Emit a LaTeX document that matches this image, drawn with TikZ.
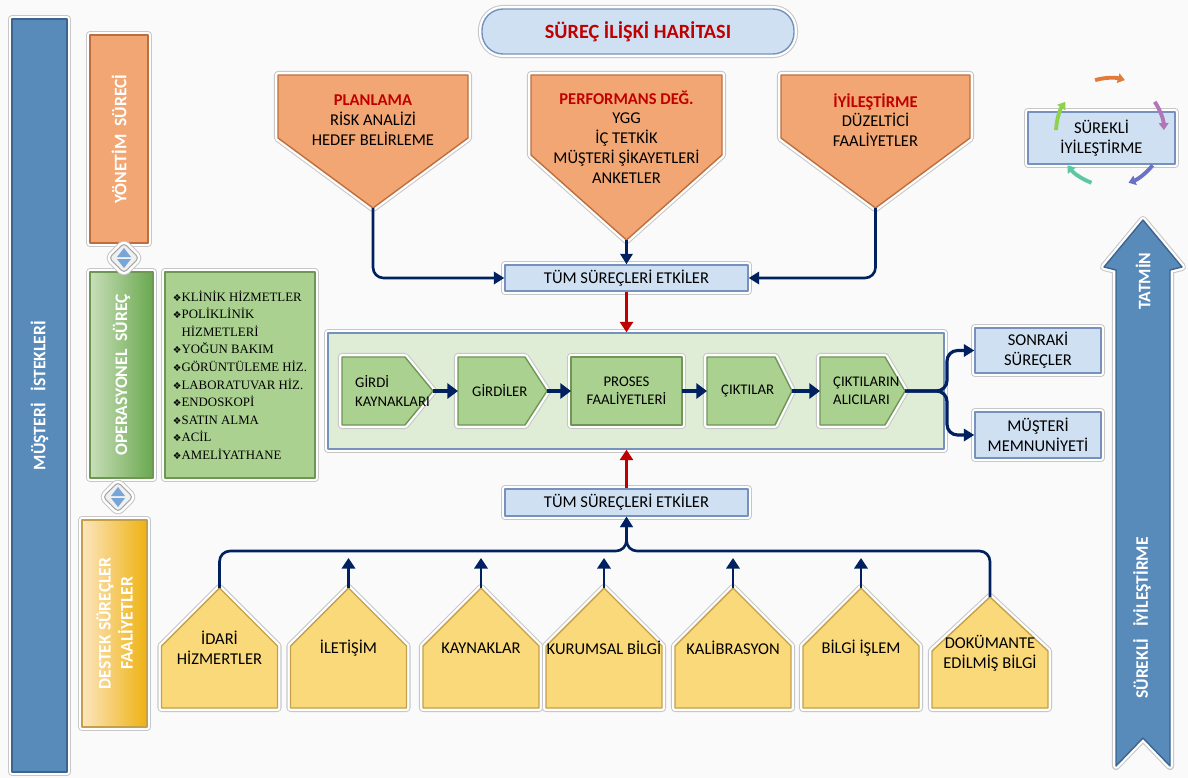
\documentclass[tikz,border=0pt]{standalone}
\usepackage{fontspec}
\setmainfont{Carlito}
\newfontfamily\listfont{Liberation Serif}
\newfontfamily\symfont{DejaVu Sans}
\usetikzlibrary{arrows.meta,calc}
\definecolor{barblue}{RGB}{88,139,185}
\definecolor{bardark}{RGB}{60,100,145}
\definecolor{salmon}{RGB}{241,166,115}
\definecolor{salmondark}{RGB}{190,110,62}
\definecolor{paleblue}{RGB}{207,224,242}
\definecolor{paledark}{RGB}{118,146,188}
\definecolor{leaf}{RGB}{170,209,143}
\definecolor{leafdark}{RGB}{110,150,85}
\definecolor{mint}{RGB}{223,236,214}
\definecolor{sand}{RGB}{250,217,122}
\definecolor{sanddark}{RGB}{196,160,75}
\definecolor{navy}{RGB}{0,32,96}
\definecolor{darkred}{RGB}{192,0,0}
\definecolor{gold}{RGB}{238,178,17}
\definecolor{goldlight}{RGB}{252,229,190}
\definecolor{grass}{RGB}{106,168,79}
\definecolor{grasslight}{RGB}{200,222,184}
\definecolor{iconblue}{RGB}{120,165,215}
\definecolor{cycorange}{RGB}{226,122,58}
\definecolor{cycpurple}{RGB}{178,118,184}
\definecolor{cycblue}{RGB}{106,114,198}
\definecolor{cycteal}{RGB}{92,200,160}
\definecolor{cycgreen}{RGB}{142,209,75}
\begin{document}
\begin{tikzpicture}[x=0.02cm,y=-0.02cm,line join=round,>={Triangle[length=6pt,width=7pt]},font=\fontsize{9.4}{11.3}\selectfont]
	\tikzset{glow/.style={preaction={draw=black!22,line width=4.6pt},preaction={draw=white,line width=3.4pt}},
		bluebox/.style={glow,draw=paledark,fill=paleblue,line width=.8pt,inner sep=0pt,align=center},
		sidebar/.style={glow,rotate=90,line width=.8pt,inner sep=0pt,text=white,align=center,
			font=\fontsize{10}{12.5}\selectfont\bfseries},
		pent/.style={glow,draw=salmondark,fill=salmon,line width=.8pt},
		procshape/.style={glow,draw=leafdark,fill=leaf,line width=.8pt},
		house/.style={glow,draw=sanddark,fill=sand,line width=.8pt},
		flow/.style={draw=navy,line width=1.5pt,->,rounded corners=6pt},
		chain/.style={draw=navy,line width=2.3pt,-{Triangle[length=6pt,width=8.5pt]}},
		lift/.style={draw=navy,line width=1.7pt,-{Triangle[length=6pt,width=7.5pt]}},
		hot/.style={draw=darkred,line width=1.7pt,-{Triangle[length=6pt,width=7.5pt]}}}
	\fill[black!2] (0,0) rectangle (1188,778);
	\useasboundingbox (0,0) rectangle (1188,778);
	\def\madde{{\symfont\fontsize{5.5}{6}\selectfont ❖}}
	% sol sutunlar
	\node[sidebar,fill=barblue,draw=bardark,minimum width=15.06cm,minimum height=1.1cm] (istek) at (39.5,395.5) {MÜŞTERİ\ \ \ İSTEKLERİ};
	\node[sidebar,fill=salmon,draw=salmondark,minimum width=4.16cm,minimum height=1.16cm] (yonetim) at (119,139) {YÖNETİM\ \ SÜRECİ};
	\node[sidebar,left color=grasslight,right color=grass,draw=leafdark,minimum width=4.12cm,minimum height=1.26cm] (opr) at (121.5,375) {OPERASYONEL\ \ SÜREÇ};
	\node[sidebar,left color=goldlight,right color=gold,draw=sanddark,minimum width=4.14cm,minimum height=1.3cm] (destek) at (114.5,623.5) {DESTEK SÜREÇLER\\FAALİYETLER};
	\node[glow,draw=leafdark,fill=leaf,line width=.8pt,minimum width=3cm,minimum height=4.12cm,inner sep=0pt,align=left,
		font=\listfont\fontsize{7.3}{10}\selectfont] (liste) at (240,375)
		{\madde KLİNİK HİZMETLER\\\madde POLİKLİNİK\\\phantom{\madde}HİZMETLERİ\\\madde YOĞUN BAKIM\\\madde GÖRÜNTÜLEME HİZ.\\
		\madde LABORATUVAR HİZ.\\\madde ENDOSKOPİ\\\madde SATIN ALMA\\\madde ACİL\\\madde AMELİYATHANE};
	\foreach \n/\x/\y in {ikon1/124/258,ikon2/118/497}{
		\node[glow,draw=black!35,fill=black!6,rotate=45,minimum size=0.42cm,rounded corners=2pt,line width=.6pt,inner sep=0pt] (\n) at (\x,\y) {};
		\fill[iconblue] (\x,{\y-10}) -- ({\x+7},{\y-1}) -- ({\x-7},{\y-1}) -- cycle;
		\fill[iconblue] (\x,{\y+10}) -- ({\x-7},{\y+1}) -- ({\x+7},{\y+1}) -- cycle;}
	% baslik
	\node[glow,draw=paledark,fill=paleblue,line width=.8pt,rounded corners=12pt,minimum width=6.24cm,minimum height=0.9cm,
		text=darkred,font=\fontsize{11.5}{14}\selectfont\bfseries] (baslik) at (638,31.5) {SÜREÇ İLİŞKİ HARİTASI};
	\foreach \n/\a/\b/\s/\t in {plan/278/468/138/208,perf/531/722/155/240,iyi/781/970/138/208}{
		\draw[pent] (\a,75) -- (\b,75) -- (\b,\s) -- ({(\a+\b)/2},\t) -- (\a,\s) -- cycle;
		\coordinate (\n-tip) at ({(\a+\b)/2},\t);}
	\node[align=center] (plan) at (373,120) {\textcolor{darkred}{\bfseries PLANLAMA}\\RİSK ANALİZİ\\HEDEF BELİRLEME};
	\node[align=center] (perf) at (626.5,137) {\textcolor{darkred}{\bfseries PERFORMANS DEĞ.}\\YGG\\İÇ TETKİK\\MÜŞTERİ ŞİKAYETLERİ\\ANKETLER};
	\node[align=center] (iyi) at (875.5,120) {\textcolor{darkred}{\bfseries İYİLEŞTİRME}\\DÜZELTİCİ\\FAALİYETLER};
	\node[bluebox,minimum width=4.86cm,minimum height=0.52cm] (tum1) at (626.5,278) {TÜM SÜREÇLERİ ETKİLER};
	\draw[flow] (plan-tip) |- (tum1.west);
	\draw[flow] (iyi-tip) |- (tum1.east);
	\draw[flow] (perf-tip) -- (tum1.north);
	% proses zinciri
	\node[glow,draw=paledark,fill=mint,line width=.8pt,minimum width=12.32cm,minimum height=2.32cm] (surec) at (636,391) {};
	\foreach \n/\a/\s/\b in {kay/342/405/433,gir/458/525/547,pro/571/682/682,cik/707/775/792,ali/820/885/905}{
		\draw[procshape] (\a,357) -- (\s,357) -- (\b,391) -- (\s,425) -- (\a,425) -- cycle;
		\coordinate (\n-in) at (\a,391);
		\coordinate (\n-out) at (\b,391);}
	\begin{scope}[every node/.style={font=\fontsize{8.4}{10.3}\selectfont,align=left}]
		\node[anchor=west] (kay) at (349,391) {GİRDİ\\KAYNAKLARI};
		\node[anchor=west] (gir) at (466,391) {GİRDİLER};
		\node[align=center] (pro) at (626.5,391) {PROSES\\FAALİYETLERİ};
		\node[anchor=west] (cik) at (715,391) {ÇIKTILAR};
		\node[anchor=west] (ali) at (827,391) {ÇIKTILARIN\\ALICILARI};
	\end{scope}
	\foreach \p/\q in {kay/gir,gir/pro,pro/cik,cik/ali}
		\draw[chain] (\p-out) -- (\q-in);
	\node[bluebox,minimum width=2.52cm,minimum height=0.9cm] (sonraki) at (1038,350.5) {SONRAKİ\\SÜREÇLER};
	\node[bluebox,minimum width=2.52cm,minimum height=0.92cm] (musteri) at (1038,435) {MÜŞTERİ\\MEMNUNİYETİ};
	\coordinate (ayrim) at (947,391);
	\draw[flow,line width=1.8pt] (ali-out) -- (ayrim) |- (sonraki.west);
	\draw[flow,line width=1.8pt] (ali-out) -- (ayrim) |- (musteri.west);
	\draw[hot] (tum1.south) -- (tum1.south |- surec.north);
	% destek surecleri
	\node[bluebox,minimum width=4.86cm,minimum height=0.54cm] (tum2) at (626.5,502.5) {TÜM SÜREÇLERİ ETKİLER};
	\draw[hot] (tum2.north) -- (tum2.north |- surec.south);
	\foreach \n/\c/\p/\s/\t in {idr/219.5/588/646/{İDARİ\\HİZMERTLER},ilt/348.5/588/646/{İLETİŞİM},kyn/481/588/646/{KAYNAKLAR},
		krm/604/588/646/{KURUMSAL BİLGİ},klb/733/588/646/{KALİBRASYON},blg/861/588/646/{BİLGİ İŞLEM},dok/990/597/651/{DOKÜMANTE\\EDİLMİŞ BİLGİ}}{
		\draw[house] ({\c-58},708) -- ({\c-58},\s) -- (\c,\p) -- ({\c+58},\s) -- ({\c+58},708) -- cycle;
		\coordinate (\n-top) at (\c,\p);
		\node[align=center] (\n) at (\c,{\s+2}) {\t};}
	\foreach \n in {ilt,kyn,krm,klb,blg}{
		\coordinate (\n-uc) at ($(\n-top)+(0,-30)$);
		\draw[lift] (\n-top) -- (\n-uc);}
	\coordinate (birlesim) at (626.5,551);
	\draw[flow] (idr-top) |- (birlesim) -- (tum2.south);
	\draw[flow] (dok-top) |- (birlesim) -- (tum2.south);
	% sag taraf
	\draw[glow,fill=barblue,draw=bardark,line width=.8pt] (1143,220) -- (1182,267) -- (1170,270) -- (1170,766) -- (1143,738)
		-- (1116,766) -- (1116,270) -- (1104,267) -- cycle;
	\node[rotate=90,text=white,font=\fontsize{10}{12}\selectfont\bfseries] (tatmin) at (1143,281) {TATMİN};
	\node[rotate=90,text=white,font=\fontsize{10}{12}\selectfont\bfseries] (surekli2) at (1142,618) {SÜREKLİ\ \ \ İYİLEŞTİRME};
	\node[bluebox,minimum width=2.94cm,minimum height=1.04cm] (surekli) at (1101.5,138) {SÜREKLİ\\İYİLEŞTİRME};
	\coordinate (donus) at (1110,132);
	\foreach \a/\c in {90/cycorange,18/cycpurple,-54/cycblue,-126/cycteal,162/cycgreen}
		\draw[\c,line width=2.2pt,-{Triangle[length=4pt,width=5.5pt]}] ($(donus)+({\a+16}:1.08cm)$)
			arc[start angle=\a+16,end angle=\a-16,radius=1.08cm];
\end{tikzpicture}
\end{document}
